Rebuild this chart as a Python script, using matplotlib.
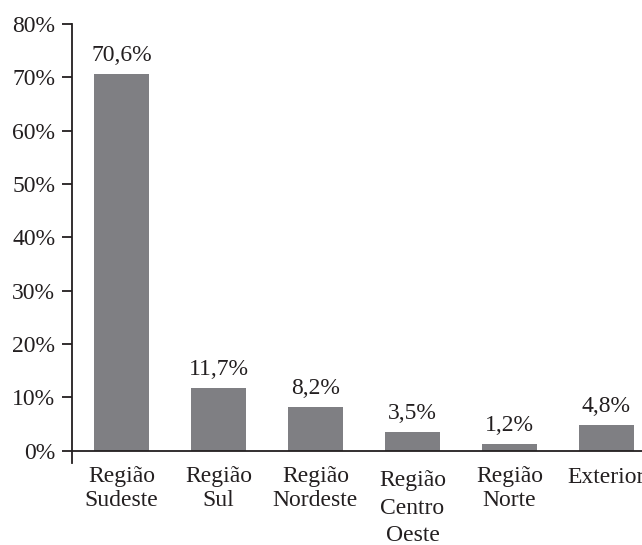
import matplotlib
matplotlib.use("Agg")
import matplotlib.pyplot as plt
from matplotlib import font_manager as fm

categories = ["Região\nSudeste", "Região\nSul", "Região\nNordeste", "Região\nCentro\nOeste", "Região\nNorte", "Exterior"]
values = [70.6, 11.7, 8.2, 3.5, 1.2, 4.8]
value_labels = ["70,6%", "11,7%", "8,2%", "3,5%", "1,2%", "4,8%"]
yticks = [0, 10, 20, 30, 40, 50, 60, 70, 80]
ytick_labels = ["0%", "10%", "20%", "30%", "40%", "50%", "60%", "70%", "80%"]

serif_files = [f for f in fm.findSystemFonts() if "LiberationSerif-Regular" in f]
if serif_files:
    fm.fontManager.addfont(serif_files[0])
    fam = fm.FontProperties(fname=serif_files[0]).get_name()
else:
    fam = "DejaVu Serif"
plt.rcParams['font.family'] = [fam, 'DejaVu Serif']
color_bar = "#7f7f83"
color_txt = "#231f20"
FS = 17

fig = plt.figure(figsize=(6.42, 5.45), dpi=100)
W, H = 642, 545
left_px, right_px = 72, 674.4
top_px, bot_px = 24, 463
ax = fig.add_axes([left_px / W, (H - bot_px) / H, (right_px - left_px) / W, (bot_px - top_px) / H])

x = list(range(len(categories)))
ax.bar(x, values, width=0.567, color=color_bar, zorder=2)
ax.set_xlim(-0.51, 5.7)
ax.set_ylim(-2.3, 80)

for xi, v, lab in zip(x, values, value_labels):
    ax.annotate(lab, (xi, v), xytext=(0, 6), textcoords="offset points",
                ha="center", va="bottom", fontsize=FS, color=color_txt)

ax.axhline(0, color=color_txt, lw=1.3, zorder=3)
for s in ["top", "right", "bottom"]:
    ax.spines[s].set_visible(False)
ax.spines["left"].set_color(color_txt)
ax.spines["left"].set_linewidth(1.3)

ax.set_yticks(yticks)
ax.set_yticklabels(ytick_labels, fontsize=FS, color=color_txt)
ax.tick_params(axis="y", direction="out", length=7, width=1.3, color=color_txt, pad=5)

ax.set_xticks([])
label_offsets = [-11, -11, -11, -14, -11, -12]
label_spacing = [1.2, 1.2, 1.2, 1.4, 1.2, 1.2]
for xi, lab, off, ls in zip(x, categories, label_offsets, label_spacing):
    ax.annotate(lab, (xi, 0), xytext=(0, off), textcoords="offset points",
                ha="center", va="top", fontsize=FS, color=color_txt,
                linespacing=ls, annotation_clip=False)

fig.savefig("out.png", dpi=100)
